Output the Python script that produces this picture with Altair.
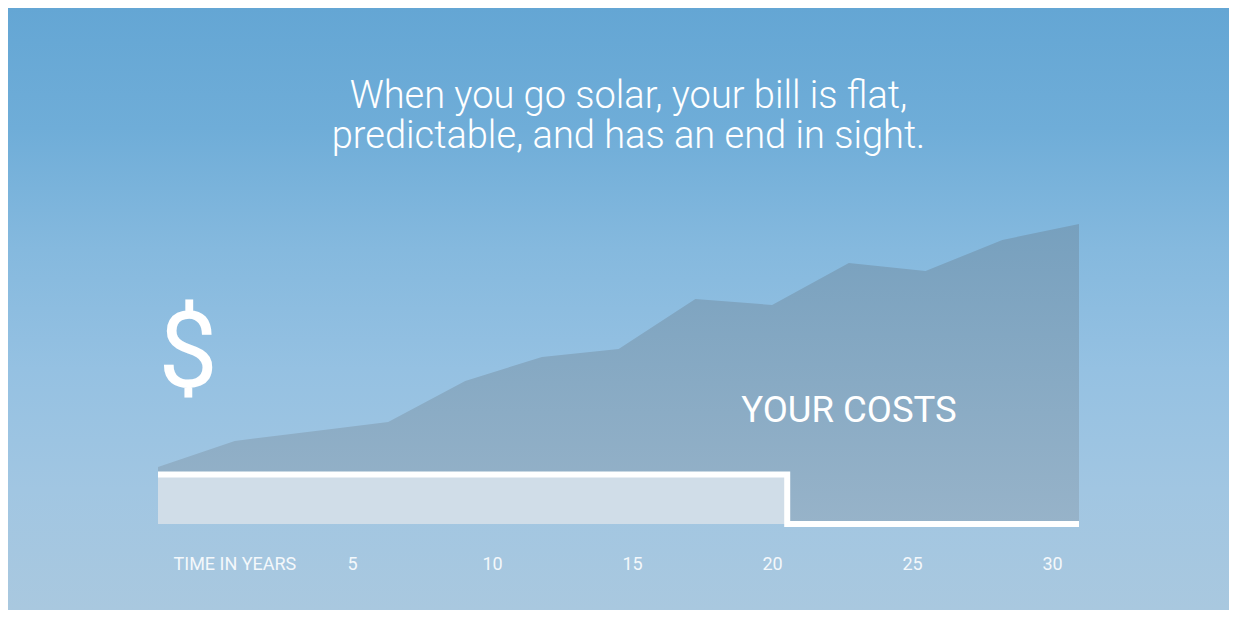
import altair as alt
import pandas as pd

# ---- data ----
area_years = [-1.93, 0.81, 3.55, 6.29, 9.04, 11.78, 14.52, 17.26, 20.0, 22.74, 25.48, 28.22, 30.96]
utility_costs = [19.0, 27.7, 30.8, 34.0, 47.7, 55.7, 58.3, 75.0, 73.0, 87.0, 84.3, 94.7, 100.0]
solar_years = [-1.93, 20.54, 20.54, 30.96]
solar_costs = [16.5, 16.5, 0.0, 0.0]
tick_years = [5, 10, 15, 20, 25, 30]
axis_title = "TIME IN YEARS"
title_lines = ["When you go solar, your bill is flat,", "predictable, and has an end in sight."]
dollar_label = {"year": -0.86, "cost": 45.8, "text": "$"}
costs_label = {"year": 18.9, "cost": 34.0, "text": "YOUR COSTS"}

FONT = "Roboto"
LIGHT = "Roboto Light, Roboto"

x_enc = alt.X(
    "year:Q",
    scale=alt.Scale(domain=[area_years[0], area_years[-1]], nice=False, zero=False),
    axis=alt.Axis(
        values=tick_years, title=axis_title, grid=False, domain=False, ticks=False, tickSize=0,
        labelColor="#f4f8fb", labelFont=FONT, labelFontSize=18, labelPadding=45,
        labelBaseline="alphabetic", labelFlush=False, labelOverlap=False,
        titleColor="#f4f8fb", titleFont=FONT, titleFontSize=18, titleFontWeight="normal",
        titleX=15, titleY=45, titleAlign="left", titleBaseline="alphabetic", zindex=2,
    ),
)
y_enc = alt.Y("cost:Q", scale=alt.Scale(domain=[0, 100], nice=False), axis=None)

area_df = pd.DataFrame({"year": area_years, "cost": utility_costs})
solar_df = pd.DataFrame({"year": solar_years, "cost": solar_costs, "order": list(range(len(solar_years)))})
fill_df = solar_df.iloc[:2]
label_df = pd.DataFrame([dollar_label])
costs_df = pd.DataFrame([costs_label])

bg_gradient = alt.Gradient(
    gradient="linear",
    stops=[
        alt.GradientStop(color="#64a6d4", offset=0.0),
        alt.GradientStop(color="#6fadd8", offset=0.2),
        alt.GradientStop(color="#85b9de", offset=0.4),
        alt.GradientStop(color="#95c1e2", offset=0.6),
        alt.GradientStop(color="#a1c6e2", offset=0.8),
        alt.GradientStop(color="#a9c8df", offset=1.0),
    ],
    x1=0, x2=0, y1=0, y2=1,
)
background = alt.Chart(pd.DataFrame({"a": [0]})).mark_rect(color=bg_gradient).encode(
    x=alt.value(-150), x2=alt.value(1071), y=alt.value(-216), y2=alt.value(386)
)

area_gradient = alt.Gradient(
    gradient="linear",
    stops=[alt.GradientStop(color="#77a0be", offset=0.0), alt.GradientStop(color="#97b3c9", offset=1.0)],
    x1=0, x2=0, y1=0, y2=1,
)
area = alt.Chart(area_df).mark_area(color=area_gradient, interpolate="linear").encode(x=x_enc, y=y_enc)

solar_fill = alt.Chart(fill_df).mark_area(color="#d0dde8").encode(x=x_enc, y=y_enc)

solar_line = alt.Chart(solar_df).mark_line(color="white", strokeWidth=6, strokeJoin="miter", strokeCap="butt").encode(
    x=x_enc, y=y_enc, order="order:Q"
)

dollar = alt.Chart(label_df).mark_text(
    font=FONT, fontSize=106, fontWeight=400, color="white", align="center", baseline="alphabetic"
).encode(x=x_enc, y=y_enc, text="text:N")

costs = alt.Chart(costs_df).mark_text(
    font=FONT, fontSize=36.5, fontWeight=400, color="white", align="left", baseline="alphabetic"
).encode(x=x_enc, y=y_enc, text="text:N")

chart = alt.layer(background, area, solar_fill, solar_line, dollar, costs).properties(
    width=921,
    height=300,
    padding={"left": 150, "top": 216, "right": 150, "bottom": 86},
    autosize="none",
    background="#8dbde0",
    title=alt.TitleParams(
        text=title_lines, font=LIGHT, fontSize=38, fontWeight=300, color="white",
        anchor="middle", baseline="bottom", offset=-186, lineHeight=40, dx=10, zindex=2,
    ),
).configure_view(stroke=None)

chart.save("out.html", embed_options={"renderer": "svg", "actions": False})
